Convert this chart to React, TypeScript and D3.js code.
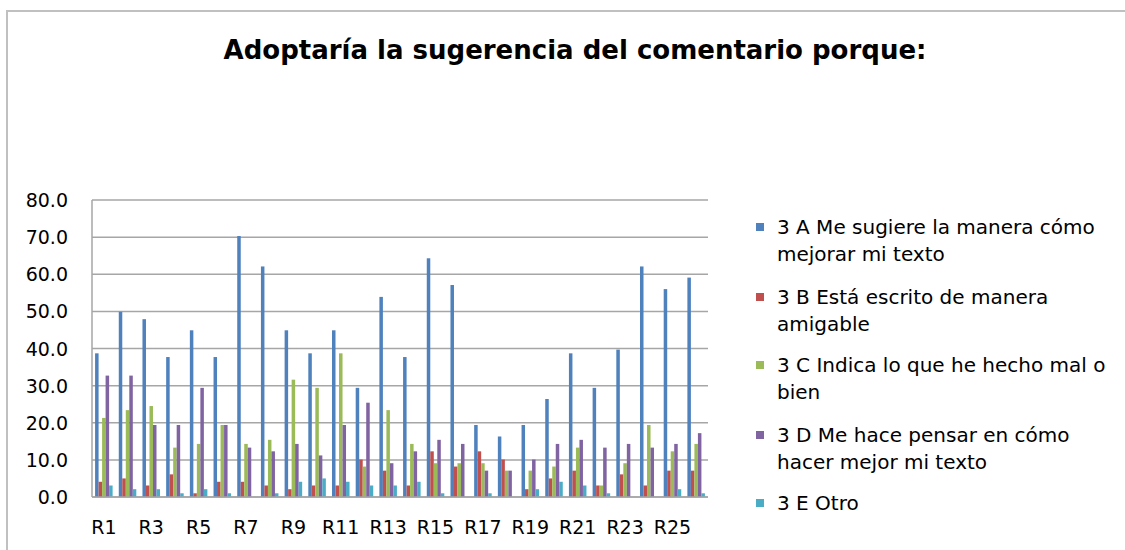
import React from "react";
import * as d3 from "d3";

const categories = Array.from({ length: 26 }, (_, i) => `R${i + 1}`);
const seriesNames = [
  "3 A Me sugiere la manera cómo mejorar mi texto",
  "3 B Está escrito de manera amigable",
  "3 C Indica lo que he hecho mal o bien",
  "3 D Me hace pensar en cómo hacer mejor mi texto",
  "3 E Otro",
];
const legendLines = [
  ["3 A Me sugiere la manera cómo", "mejorar mi texto"],
  ["3 B Está escrito de manera", "amigable"],
  ["3 C Indica lo que he hecho mal o", "bien"],
  ["3 D Me hace pensar en cómo", "hacer mejor mi texto"],
  ["3 E Otro"],
];
const colors = ["#4F81BD", "#C0504D", "#9BBB59", "#8064A2", "#4BACC6"];

const seriesA = [38.7, 49.9, 47.9, 37.7, 44.9, 37.7, 70.3, 62.1, 44.9, 38.7, 44.9, 29.4, 53.9, 37.7, 64.3, 57.1, 19.4, 16.3, 19.4, 26.4, 38.7, 29.4, 39.7, 62.1, 56.0, 59.1];
const seriesB = [4.1, 5.0, 3.1, 6.1, 1.0, 4.1, 4.1, 3.1, 2.1, 3.1, 3.1, 10.1, 7.1, 3.1, 12.3, 8.2, 12.3, 10.1, 2.1, 5.0, 7.1, 3.1, 6.1, 3.1, 7.1, 7.1];
const seriesC = [21.3, 23.4, 24.5, 13.3, 14.3, 19.4, 14.3, 15.4, 31.6, 29.4, 38.7, 8.2, 23.4, 14.3, 9.1, 9.1, 9.1, 7.1, 7.1, 8.2, 13.3, 3.1, 9.1, 19.4, 12.3, 14.3];
const seriesD = [32.7, 32.7, 19.4, 19.4, 29.4, 19.4, 13.3, 12.3, 14.3, 11.2, 19.4, 25.4, 9.1, 12.3, 15.4, 14.3, 7.1, 7.1, 10.1, 14.3, 15.4, 13.3, 14.3, 13.3, 14.3, 17.2];
const seriesE = [3.1, 2.1, 2.1, 1.0, 2.1, 1.0, 0, 1.0, 4.1, 5.0, 4.1, 3.1, 3.1, 4.1, 1.0, 0, 1.0, 0, 2.1, 4.1, 3.1, 1.0, 0, 0, 2.1, 1.0];
const allSeries = [seriesA, seriesB, seriesC, seriesD, seriesE];
const yTicks = [0, 10, 20, 30, 40, 50, 60, 70, 80];
const title = "Adoptaría la sugerencia del comentario porque:";

const W = 1125;
const H = 550;
const plot = { left: 92, right: 708, top: 200, bottom: 497 };
const FONT = "DejaVu Sans, sans-serif";

export default function App() {
  const x0 = d3
    .scaleBand<string>()
    .domain(categories)
    .range([plot.left, plot.right])
    .paddingInner(0.26)
    .paddingOuter(0.13);
  const x1 = d3
    .scaleBand<number>()
    .domain(d3.range(allSeries.length))
    .range([0, x0.bandwidth()])
    .padding(0);
  const y = d3.scaleLinear().domain([0, 80]).range([plot.bottom, plot.top]);
  const step = x0.step();

  return (
    <svg
      width={W}
      height={H}
      style={{ position: "absolute", left: 0, top: 0, background: "#fff" }}
    >
      <rect x={0} y={0} width={W} height={H} fill="#fff" />
      <path d={`M7,${H} V11 H${W}`} fill="none" stroke="#c0c0c0" strokeWidth={2} />
      <text
        x={575}
        y={50}
        textAnchor="middle"
        dominantBaseline="central"
        fontFamily={FONT}
        fontWeight="bold"
        fontSize={26}
        fill="#000"
      >
        {title}
      </text>
      {yTicks.map((t) => (
        <g key={t}>
          <line
            x1={plot.left}
            x2={plot.right}
            y1={y(t)}
            y2={y(t)}
            stroke="#a6a6a6"
            strokeWidth={1.5}
          />
          <text
            x={68}
            y={y(t)}
            textAnchor="end"
            dominantBaseline="central"
            fontFamily={FONT}
            fontSize={19}
            fill="#000"
          >
            {t.toFixed(1)}
          </text>
        </g>
      ))}
      <line
        x1={plot.left}
        x2={plot.left}
        y1={plot.top}
        y2={plot.bottom}
        stroke="#a6a6a6"
        strokeWidth={1.5}
      />
      {categories.map((c, ci) => (
        <g key={c}>
          {allSeries.map((s, si) => (
            <rect
              key={si}
              x={(x0(c) as number) + (x1(si) as number)}
              y={y(s[ci])}
              width={x1.bandwidth()}
              height={plot.bottom - y(s[ci])}
              fill={colors[si]}
            />
          ))}
          {ci % 2 === 0 && (
            <text
              x={plot.left + step * (ci + 0.5)}
              y={527}
              textAnchor="middle"
              dominantBaseline="central"
              fontFamily={FONT}
              fontSize={19}
              fill="#000"
            >
              {c}
            </text>
          )}
        </g>
      ))}
      <line
        x1={plot.left}
        x2={plot.right}
        y1={plot.bottom}
        y2={plot.bottom}
        stroke="#a6a6a6"
        strokeWidth={1.5}
      />
      {legendLines.map((lines, i) => {
        const yc = [227, 297, 365, 435, 503][i];
        return (
          <g key={i}>
            <rect x={756} y={yc - 4} width={8} height={8} fill={colors[i]} />
            {lines.map((ln, j) => (
              <text
                key={j}
                x={777}
                y={yc + j * 27}
                dominantBaseline="central"
                fontFamily={FONT}
                fontSize={20}
                fill="#000"
              >
                {ln}
              </text>
            ))}
          </g>
        );
      })}
    </svg>
  );
}
